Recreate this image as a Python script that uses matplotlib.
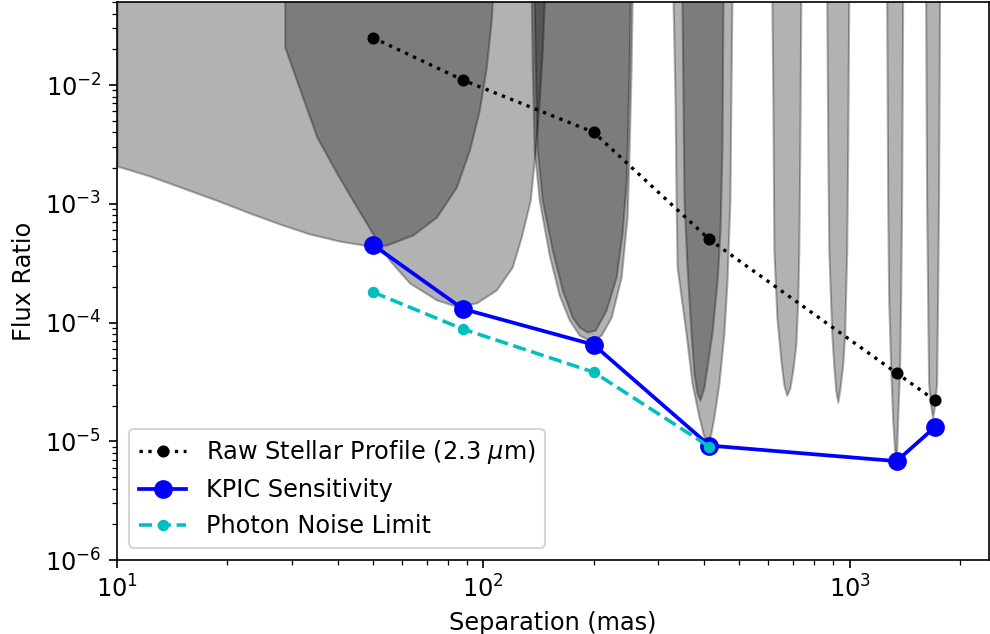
import matplotlib.pyplot as plt

plt.rcParams['font.size'] = 11.5
plt.rcParams['xtick.major.size'] = 4.0
plt.rcParams['ytick.major.size'] = 4.0
plt.rcParams['xtick.minor.size'] = 2.3
plt.rcParams['ytick.minor.size'] = 2.3

# raw stellar profile
sep_raw = [50, 88, 200, 414, 1343, 1706]
flux_raw = [0.025, 0.011, 0.004, 5.0e-4, 3.75e-5, 2.22e-5]

# KPIC sensitivity
sep_kpic = [50, 88, 200, 414, 1343, 1706]
flux_kpic = [4.5e-4, 1.3e-4, 6.5e-5, 9.2e-6, 6.8e-6, 1.31e-5]

# photon noise limit
sep_phot = [50, 88, 200, 414]
flux_phot = [1.8e-4, 8.8e-5, 3.82e-5, 9.0e-6]

# excluded regions: lower boundary of each shaded area (filled up to the top)
reg_a_x = [10.0, 12.3, 15.1, 18.7, 23.0, 27.8, 33.6, 40.5, 48.9, 54.4, 64.1, 74.5, 84.4, 91.6,
           97.5, 101.9, 105.1, 105.8]
reg_a_y = [2.08e-3, 1.71e-3, 1.36e-3, 1.07e-3, 8.36e-4, 6.75e-4, 5.56e-4, 4.85e-4, 4.40e-4,
           4.49e-4, 5.45e-4, 7.72e-4, 1.38e-3, 2.83e-3, 6.15e-3, 1.42e-2, 3.53e-2, 0.05]

reg_b_x = [28.7, 35.1, 39.8, 45.1, 49.8, 55.4, 62.9, 74.5, 84.4, 95.7, 108.5, 119.9, 126.9,
           134.3, 138.6, 142.1, 144.8, 146.6]
reg_b_y = [2.09e-2, 3.65e-3, 1.81e-3, 9.38e-4, 5.66e-4, 3.36e-4, 2.15e-4, 1.55e-4, 1.37e-4,
           1.46e-4, 1.88e-4, 2.93e-4, 5.24e-4, 1.07e-3, 2.83e-3, 7.48e-3, 1.97e-2, 0.05]

reg_c_x = [137.7, 138.6, 140.3, 144.8, 154.2, 164.2, 174.8, 182.7, 192.1, 202.0, 216.3, 230.4,
           239.2, 245.3, 246.8, 250.0, 251.6]
reg_c_y = [0.05, 1.42e-2, 2.83e-3, 1.07e-3, 4.07e-4, 1.88e-4, 1.11e-4, 9.14e-5, 8.30e-5, 8.63e-5,
           1.27e-4, 2.41e-4, 5.66e-4, 1.49e-3, 2.83e-3, 1.42e-2, 0.05]

reg_d_x = [135.2, 136.0, 137.7, 142.1, 151.3, 161.1, 171.6, 182.7, 197.0, 209.7, 223.4, 237.7,
           246.8, 250.0, 253.1, 254.7]
reg_d_y = [0.05, 1.42e-2, 2.83e-3, 1.07e-3, 3.70e-4, 1.70e-4, 1.05e-4, 7.83e-5, 6.97e-5, 7.83e-5,
           1.11e-4, 2.41e-4, 7.72e-4, 2.83e-3, 1.42e-2, 0.05]

reg_e_x = [329.5, 333.6, 335.8, 337.9, 357.4, 371.1, 387.8, 397.6, 407.7, 418.1, 426.0, 439.6,
           453.6, 462.2, 471.0, 473.9, 476.9]
reg_e_y = [0.05, 7.48e-3, 1.07e-3, 2.93e-4, 8.14e-5, 3.08e-5, 1.60e-5, 1.17e-5, 9.27e-6, 1.17e-5,
           1.60e-5, 3.08e-5, 8.14e-5, 2.15e-4, 1.07e-3, 7.48e-3, 0.05]

reg_f_x = [348.5, 350.7, 352.9, 359.7, 368.8, 375.8, 382.9, 390.2, 400.2, 420.7, 434.1, 442.4,
           448.0, 450.8]
reg_f_y = [0.05, 7.48e-3, 1.07e-3, 2.93e-4, 8.14e-5, 3.75e-5, 2.54e-5, 2.22e-5, 2.85e-5, 8.14e-5,
           2.15e-4, 5.66e-4, 2.83e-3, 0.05]

reg_g_x = [613.2, 616.9, 620.9, 632.6, 648.7, 661.1, 673.5, 686.3, 699.4, 712.7, 721.7, 726.2,
           730.8, 735.4]
reg_g_y = [0.05, 7.48e-3, 4.07e-4, 1.11e-4, 4.82e-5, 2.97e-5, 2.44e-5, 2.80e-5, 3.97e-5, 6.46e-5,
           1.55e-4, 4.07e-4, 2.83e-3, 0.05]

reg_h_x = [865.8, 871.3, 876.8, 893.2, 904.5, 916.0, 927.6, 939.3, 957.0, 969.1, 981.3, 987.6, 993.8]
reg_h_y = [0.05, 2.83e-3, 4.07e-4, 8.14e-5, 4.37e-5, 2.69e-5, 2.13e-5, 2.69e-5, 4.37e-5, 8.14e-5,
           4.07e-4, 2.83e-3, 0.05]

reg_i_x = [1261.6, 1269.4, 1277.6, 1293.6, 1310.0, 1326.4, 1334.9, 1343.3, 1351.7, 1368.6,
           1377.4, 1386.0, 1394.7]
reg_i_y = [0.05, 1.07e-3, 1.55e-4, 4.21e-5, 1.51e-5, 8.41e-6, 7.34e-6, 8.41e-6, 1.51e-5, 4.21e-5,
           1.55e-4, 1.07e-3, 0.05]

reg_j_x = [1611.5, 1621.6, 1631.8, 1642.1, 1662.7, 1683.8, 1705.0, 1726.6, 1737.4, 1748.2, 1759.1]
reg_j_y = [0.05, 1.07e-3, 1.55e-4, 3.08e-5, 2.01e-5, 1.57e-5, 2.01e-5, 3.08e-5, 1.55e-4, 1.07e-3, 0.05]

regions = [(reg_a_x, reg_a_y), (reg_b_x, reg_b_y), (reg_c_x, reg_c_y), (reg_d_x, reg_d_y),
           (reg_e_x, reg_e_y), (reg_f_x, reg_f_y), (reg_g_x, reg_g_y), (reg_h_x, reg_h_y),
           (reg_i_x, reg_i_y), (reg_j_x, reg_j_y)]

fig = plt.figure(figsize=(6.6, 634 / 150.), dpi=150)
ax = fig.add_axes([117 / 990., 74 / 634., 872 / 990., 558 / 634.])

for rx, ry in regions:
    ax.fill_between(rx, ry, 1, color='k', alpha=0.3)

ax.plot(sep_raw, flux_raw, 'k:', marker='o', markersize=4.8, linewidth=1.6,
        label=r'Raw Stellar Profile (2.3 $\mu$m)')
ax.plot(sep_kpic, flux_kpic, 'b-', marker='o', markersize=8, linewidth=1.8,
        label='KPIC Sensitivity')
ax.plot(sep_phot, flux_phot, 'c--', marker='o', markersize=4.5, linewidth=1.7,
        label='Photon Noise Limit')

ax.set_xscale('log')
ax.set_yscale('log')
ax.set_xlim(10, 2400)
ax.set_ylim(1e-6, 5e-2)
ax.set_xlabel('Separation (mas)')
ax.set_ylabel('Flux Ratio')
ax.legend(loc='lower left')

fig.savefig('out.png', dpi=150)
